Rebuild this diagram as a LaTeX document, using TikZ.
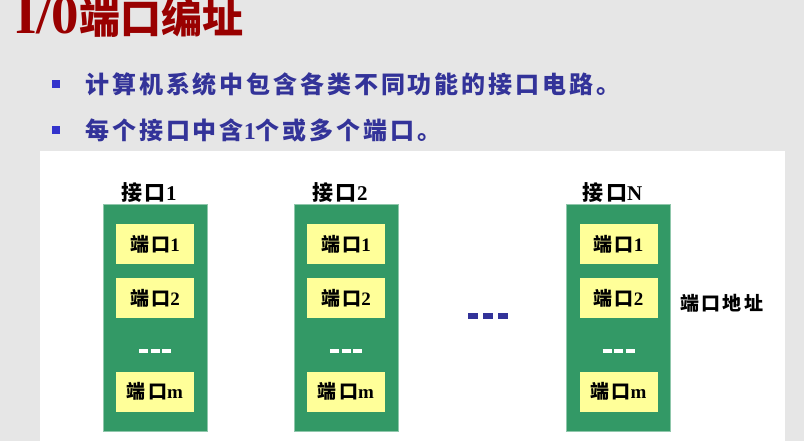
\documentclass[tikz,border=0pt]{standalone}
\usepackage{fontspec}
\setmainfont{Liberation Serif}
\newfontfamily\cjk{Noto Sans CJK SC}
\newfontfamily\cjkwide{Noto Sans CJK SC}[LetterSpace=12]
\usetikzlibrary{positioning}
\definecolor{Paper}{HTML}{E6E6E6}
\definecolor{Maroon}{HTML}{990000}
\definecolor{Navy}{HTML}{333399}
\definecolor{Marker}{HTML}{3333CC}
\definecolor{Board}{HTML}{339966}
\definecolor{Port}{HTML}{FFFF99}
\newcommand{\dashrow}[3]{\rule{#1}{#2}\hspace{#3}\rule{#1}{#2}\hspace{#3}\rule{#1}{#2}}

\begin{document}
\begin{tikzpicture}[x=1pt,y=-1pt,
    bullet/.style={fill=Marker,minimum size=8pt,inner sep=0pt},
    item/.style={text=Navy,font=\cjkwide\bfseries\fontsize{24}{24}\selectfont,inner sep=0pt,anchor=west},
    board/.style={fill=Board,draw=Board!55!white,line width=.8pt,minimum width=104pt,minimum height=227pt,inner sep=0pt},
    port/.style={fill=Port,minimum width=78pt,minimum height=40pt,inner sep=0pt,font=\bfseries\fontsize{19}{19}\selectfont},
    gap/.style={inner sep=0pt}]
    \useasboundingbox (0,0) rectangle (804,441);
    \fill[Paper] (0,0) rectangle (804,441);
    \fill[white] (40,151) rectangle (785,441);
    \node[anchor=base west,inner sep=0pt,text=Maroon,font=\bfseries] (title) at (15,34)
      {\fontsize{55}{55}\selectfont I/0\fontsize{41}{41}\selectfont\cjk 端口编址};
    \node[bullet] (b1) at (56,84) {};
    \node[item,right=25pt of b1] (t1) {计算机系统中包含各类不同功能的接口电路。};
    \node[bullet] (b2) at (56,130) {};
    \node[item,right=25pt of b2] (t2) {每个接口中含{\rmfamily 1}个或多个端口。};
    \foreach \cx/\nm in {155/1,346/2,618.5/N}{
      \node[board] (board\nm) at (\cx,317.5) {};
      \node[font=\bfseries\fontsize{21}{21}\selectfont,anchor=south,inner sep=0pt] (label\nm)
        at ([xshift=-6pt,yshift=1pt]board\nm.north) {{\cjkwide 接口}\nm};
      \node[port] (p\nm-1) at (\cx,244) {{\cjkwide 端口}1};
      \node[port,below=14pt of p\nm-1] (p\nm-2) {{\cjkwide 端口}2};
      \node[gap,text=white] (d\nm) at (\cx,351) {\dashrow{9pt}{4pt}{2.5pt}};
      \node[port] (p\nm-m) at (\cx,391.5) {{\cjkwide 端口}m};
    }
    \node[gap,text=Navy] (dmid) at (488,316) {\dashrow{10pt}{6pt}{5pt}};
    \node[anchor=west,inner sep=0pt,font=\cjkwide\bfseries\fontsize{19}{19}\selectfont] (addr) at (680,303) {端口地址};
\end{tikzpicture}
\end{document}
